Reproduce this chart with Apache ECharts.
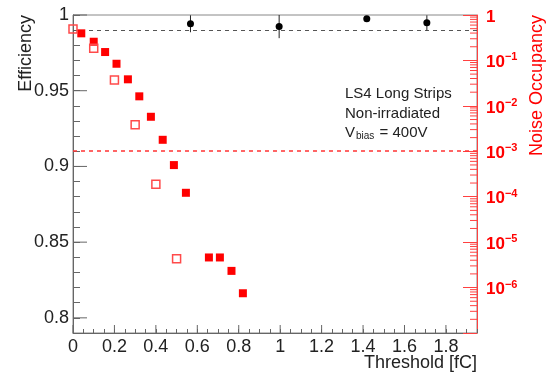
<!DOCTYPE html>
<html>
<head>
<meta charset="utf-8">
<script src="https://cdn.jsdelivr.net/npm/echarts@6/dist/echarts.min.js"></script>
<style>html,body{margin:0;padding:0;background:#fff}#c{width:546px;height:375px}</style>
</head>
<body>
<div id="c"></div>
<script>
// ---- data ----
const effX = [0.567, 0.995, 1.418, 1.708];
const effY = [0.9942, 0.9924, 0.9975, 0.9948];
const effErr = [0.0056, 0.0077, 0.0015, 0.0050];

const noiseX = [0.04, 0.10, 0.155, 0.21, 0.265, 0.32, 0.376, 0.433, 0.487, 0.545, 0.656, 0.709, 0.765, 0.82];
const noiseY = [0.395, 0.258, 0.153, 0.0845, 0.0384, 0.0162, 0.00575, 0.00179, 0.000497, 0.000122, 4.6e-6, 4.6e-6, 2.33e-6, 7.5e-7];

const noise2X = [0.0, 0.10, 0.20, 0.30, 0.40, 0.50];
const noise2Y = [0.49, 0.185, 0.037, 0.00384, 0.000187, 4.3e-6];

const effTarget = 0.99;
const noiseTarget = 1e-3;

const xMajorTicks = [0, 0.2, 0.4, 0.6, 0.8, 1.0, 1.2, 1.4, 1.6, 1.8];
const leftMajorTicks = [0.8, 0.85, 0.9, 0.95, 1.0];
const logDecades = [-7, -6, -5, -4, -3, -2, -1];
const logMinorMult = [2, 3, 4, 5, 6, 7, 8, 9];

const X_MIN = 0, X_MAX = 1.95, Y_MIN = 0.79, Y_MAX = 1.0, N_MIN = 1e-7, N_MAX = 1;

// ---- chart ----
const FONT = 'Liberation Sans, Arial, Helvetica, sans-serif';
const RED = '#ff0000';
const chart = echarts.init(document.getElementById('c'), null, {renderer: 'canvas'});

const rightMinor = [];
logDecades.forEach(d => logMinorMult.forEach(m => rightMinor.push([X_MAX, m * Math.pow(10, d)])));

function tickLine(p1, p2, color) {
  return {type: 'line', shape: {x1: p1[0], y1: p1[1], x2: p2[0], y2: p2[1]}, style: {stroke: color, lineWidth: 1}};
}
function dashLine(color, width, snapHalf) {
  return (params, api) => {
    const p1 = api.coord([api.value(0), api.value(2)]);
    const p2 = api.coord([api.value(1), api.value(2)]);
    const y = Math.round(p1[1]) + (snapHalf ? 0.5 : 0);
    return {type: 'line', shape: {x1: p1[0], y1: y, x2: p2[0], y2: y},
            style: {stroke: color, lineWidth: width, lineDash: [4, 4]}};
  };
}

const option = {
  animation: false,
  backgroundColor: '#fff',
  grid: {left: 73, top: 15, right: 69, bottom: 42, show: true, borderColor: '#888', borderWidth: 1, backgroundColor: 'transparent'},
  xAxis: {
    type: 'value', min: X_MIN, max: X_MAX, interval: 0.05,
    axisLine: {show: true, lineStyle: {color: '#666', width: 1}},
    axisTick: {show: true, inside: true, length: 4, lineStyle: {color: '#666'}},
    splitLine: {show: false},
    axisLabel: {
      margin: 5, color: '#222', fontSize: 18, fontFamily: FONT,
      formatter: v => { const c = Math.round(v * 100); return (c % 20 === 0 && c <= 180) ? String(c / 100) : ''; }
    }
  },
  yAxis: [
    {
      type: 'value', min: Y_MIN, max: Y_MAX, interval: 0.01,
      axisLine: {show: true, lineStyle: {color: '#666', width: 1}},
      axisTick: {show: true, inside: true, length: 7, lineStyle: {color: '#666'}},
      splitLine: {show: false},
      axisLabel: {
        margin: 4, color: '#222', fontSize: 18, fontFamily: FONT,
        formatter: v => { const c = Math.round(v * 100); return c % 5 === 0 ? String(c / 100) : ''; }
      }
    },
    {
      type: 'log', logBase: 10, min: N_MIN, max: N_MAX, interval: 1, position: 'right',
      axisLine: {show: true, lineStyle: {color: '#ff4040', width: 1}},
      axisTick: {show: true, inside: true, length: 14, lineStyle: {color: '#ff4040'}},
      splitLine: {show: false},
      axisLabel: {
        margin: 9, color: RED, fontFamily: FONT, fontWeight: 'bold', fontSize: 17,
        formatter: v => {
          const e = Math.round(Math.log10(v));
          if (e === 0) return '{b|1}';
          if (e <= -7) return '';
          return '{b|10}{s|\u2212' + (-e) + '}';
        },
        rich: {
          b: {fontSize: 17, fontWeight: 'bold', color: RED, fontFamily: FONT, verticalAlign: 'bottom', padding: [4, 0, 0, 0]},
          s: {fontSize: 11, fontWeight: 'bold', color: RED, fontFamily: FONT, verticalAlign: 'bottom', padding: [0, 0, 8, 0]}
        }
      }
    }
  ],
  graphic: [
    {type: 'text', x: 26, y: 15, rotation: Math.PI / 2,
     style: {text: 'Efficiency', font: '18px ' + FONT, fill: '#222', align: 'right', verticalAlign: 'middle'}},
    {type: 'text', x: 537, y: 15, rotation: Math.PI / 2,
     style: {text: 'Noise Occupancy', font: '18px ' + FONT, fill: RED, align: 'right', verticalAlign: 'middle'}},
    {type: 'text', x: 477, y: 363,
     style: {text: 'Threshold [fC]', font: '18px ' + FONT, fill: '#222', align: 'right', verticalAlign: 'middle'}},
    {type: 'text', x: 345, y: 94,
     style: {text: 'LS4 Long Strips', font: '15px ' + FONT, fill: '#222', align: 'left', verticalAlign: 'middle'}},
    {type: 'text', x: 345, y: 114,
     style: {text: 'Non-irradiated', font: '15px ' + FONT, fill: '#222', align: 'left', verticalAlign: 'middle'}},
    {type: 'text', x: 345, y: 133,
     style: {text: 'V{sub|bias} = 400V', font: '15px ' + FONT, fill: '#222', align: 'left', verticalAlign: 'middle',
       rich: {sub: {fontSize: 10, fontFamily: FONT, fill: '#222', padding: [7, 1, 0, 1], verticalAlign: 'top'}}}}
  ],
  series: [
    {
      name: 'ticksX', type: 'custom', xAxisIndex: 0, yAxisIndex: 0, silent: true, z: 5,
      data: xMajorTicks.map(v => [v, Y_MIN]),
      renderItem: (params, api) => {
        const p = api.coord([api.value(0), api.value(1)]);
        return tickLine(p, [p[0], p[1] - 8], '#666');
      }
    },
    {
      name: 'ticksYL', type: 'custom', xAxisIndex: 0, yAxisIndex: 0, silent: true, z: 5,
      data: leftMajorTicks.map(v => [X_MIN, v]),
      renderItem: (params, api) => {
        const p = api.coord([api.value(0), api.value(1)]);
        return tickLine(p, [p[0] + 14, p[1]], '#666');
      }
    },
    {
      name: 'ticksYR', type: 'custom', xAxisIndex: 0, yAxisIndex: 1, silent: true, z: 5,
      data: rightMinor,
      renderItem: (params, api) => {
        const p = api.coord([api.value(0), api.value(1)]);
        return tickLine(p, [p[0] - 7, p[1]], '#ff4040');
      }
    },
    {
      name: 'effTargetLine', type: 'custom', xAxisIndex: 0, yAxisIndex: 0, z: 4, silent: true,
      encode: {x: [0, 1], y: 2},
      data: [[X_MIN, X_MAX, effTarget]],
      renderItem: dashLine('#555', 1, true)
    },
    {
      name: 'noiseTargetLine', type: 'custom', xAxisIndex: 0, yAxisIndex: 1, z: 4, silent: true,
      encode: {x: [0, 1], y: 2},
      data: [[X_MIN, X_MAX, noiseTarget]],
      renderItem: dashLine('#ff3333', 1.3, false)
    },
    {
      name: 'effErr', type: 'custom', xAxisIndex: 0, yAxisIndex: 0, z: 6,
      data: effX.map((x, i) => [x, effY[i], effErr[i]]),
      renderItem: (params, api) => {
        const x = api.value(0), y = api.value(1), e = api.value(2);
        const lo = api.coord([x, y - e]), hi = api.coord([x, Math.min(y + e, Y_MAX)]);
        return tickLine(lo, hi, '#222');
      }
    },
    {
      name: 'Efficiency', type: 'scatter', xAxisIndex: 0, yAxisIndex: 0, z: 7,
      symbol: 'circle', symbolSize: 7, itemStyle: {color: '#000', opacity: 1},
      data: effX.map((x, i) => [x, effY[i]])
    },
    {
      name: 'Noise', type: 'scatter', xAxisIndex: 0, yAxisIndex: 1, z: 7,
      symbol: 'rect', symbolSize: 8, itemStyle: {color: RED, opacity: 1},
      data: noiseX.map((x, i) => [x, noiseY[i]])
    },
    {
      name: 'Noise2', type: 'scatter', xAxisIndex: 0, yAxisIndex: 1, z: 7, clip: false,
      symbol: 'rect', symbolSize: 8,
      itemStyle: {color: 'rgba(255,255,255,0)', borderColor: '#ff4a4a', borderWidth: 1.5, opacity: 1},
      data: noise2X.map((x, i) => [x, noise2Y[i]])
    }
  ]
};
chart.setOption(option);
</script>
</body>
</html>
